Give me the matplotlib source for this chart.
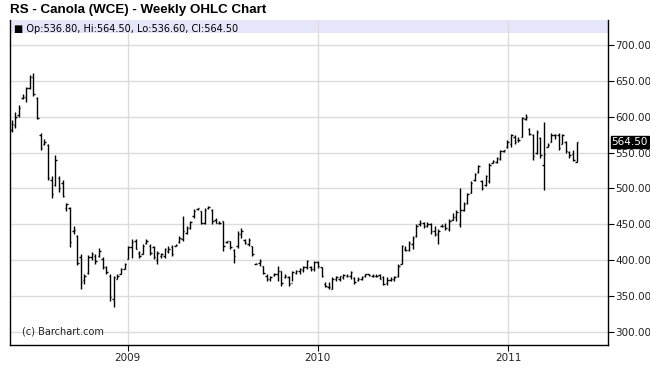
import numpy as np
import pandas as pd
import matplotlib.pyplot as plt
import matplotlib.dates as mdates

# weekly bars
start = "2008-05-23"
opens = [582, 588, 602, 626, 628, 640, 655, 626, 575, 562, 560, 512, 505, 515, 508, 472,
         472, 440, 434, 404, 372, 382, 404, 406, 406, 402, 390, 378, 345, 374, 381, 388,
         402, 418, 426, 410, 408, 424, 420, 418, 400, 406, 405, 412, 418, 420, 425, 430,
         438, 445, 461, 471, 468, 452, 472, 470, 456, 452, 454, 425, 426, 414, 420, 436,
         428, 422, 420, 395, 396, 391, 378, 374, 379, 380, 384, 376, 376, 368, 382, 384,
         386, 390, 390, 387, 397, 390, 366, 362, 360, 373, 374, 376, 378, 378, 375, 372,
         374, 377, 380, 378, 378, 379, 376, 368, 372, 373, 377, 395, 416, 414, 422, 433,
         450, 452, 448, 450, 440, 436, 447, 448, 443, 456, 460, 450, 470, 479, 494, 511,
         523, 510, 504, 510, 536, 537, 541, 552, 557, 562, 572, 567, 572, 597, 583, 575,
         550, 570, 533, 558, 565, 574, 575, 562, 565, 551, 548, 536.8]
highs = [595, 606, 616, 631, 642, 658, 661, 628, 577, 569, 562, 517, 546, 517, 511, 480,
         474, 447, 435, 408, 380, 407, 411, 408, 417, 404, 392, 380, 378, 380, 389, 396,
         420, 429, 429, 413, 422, 429, 422, 420, 413, 410, 417, 419, 421, 422, 433, 462,
         448, 455, 471, 473, 469, 472, 476, 471, 458, 455, 455, 427, 427, 415, 441, 445,
         429, 431, 420, 396, 401, 392, 380, 378, 382, 391, 385, 380, 378, 385, 386, 389,
         392, 400, 392, 399, 399, 390, 369, 369, 376, 378, 378, 380, 380, 385, 376, 376,
         378, 381, 381, 380, 380, 380, 377, 376, 376, 377, 394, 421, 420, 427, 433, 450,
         456, 453, 453, 451, 448, 443, 450, 451, 457, 465, 470, 501, 481, 494, 510, 522,
         533, 512, 519, 535, 539, 544, 554, 554, 567, 576, 574, 571, 600, 604, 584, 576,
         581, 571, 592, 563, 577, 576, 577, 576, 566, 552, 554, 564.5]
lows = [578, 584, 600, 625, 620, 638, 629, 597, 553, 561, 511, 487, 503, 495, 488, 469,
        418, 436, 393, 359, 366, 380, 400, 394, 404, 387, 381, 343, 335, 373, 380, 387,
        401, 403, 415, 403, 408, 422, 407, 402, 395, 403, 403, 410, 406, 419, 424, 427,
        436, 443, 459, 470, 450, 450, 471, 450, 451, 450, 413, 424, 415, 396, 417, 431,
        422, 420, 406, 394, 392, 380, 371, 371, 378, 371, 364, 375, 364, 371, 380, 381,
        383, 387, 385, 385, 389, 376, 362, 359, 359, 371, 371, 373, 376, 373, 366, 371,
        372, 376, 377, 376, 376, 373, 365, 365, 371, 371, 376, 394, 413, 413, 415, 432,
        448, 445, 446, 436, 433, 423, 446, 442, 441, 456, 455, 446, 469, 478, 494, 510,
        522, 497, 503, 508, 535, 535, 540, 551, 556, 557, 562, 564, 571, 595, 574, 540,
        548, 543, 497, 557, 564, 569, 553, 562, 550, 543, 538, 536.6]
closes = [590, 600, 612, 628, 640, 655, 632, 598, 556, 565, 515, 492, 540, 500, 490, 478,
          425, 442, 396, 370, 378, 404, 408, 398, 412, 390, 383, 348, 376, 378, 387, 394,
          418, 425, 416, 406, 420, 426, 410, 404, 410, 408, 415, 416, 408, 421, 431, 440,
          444, 453, 469, 472, 452, 470, 474, 455, 452, 451, 420, 426, 418, 405, 436, 440,
          424, 428, 408, 395, 398, 382, 374, 376, 381, 385, 368, 378, 366, 383, 385, 388,
          390, 398, 387, 397, 392, 378, 364, 362, 374, 376, 377, 379, 377, 383, 370, 374,
          376, 380, 379, 378, 378, 374, 367, 372, 374, 376, 392, 420, 414, 424, 431, 448,
          452, 447, 450, 440, 436, 441, 448, 444, 455, 460, 467, 470, 478, 492, 508, 520,
          531, 500, 517, 533, 538, 542, 552, 553, 565, 574, 565, 568, 598, 599, 576, 545,
          578, 546, 548, 561, 575, 575, 556, 574, 552, 546, 540, 564.5]
year_ticks = ["2009-01-01", "2010-01-01", "2011-01-01"]
year_labels = ["2009", "2010", "2011"]
price_ticks = [300, 350, 400, 450, 500, 550, 600, 650, 700]

dates = pd.date_range(start, periods=len(opens), freq="7D")
xd = mdates.date2num(dates)
tick = 2.8  # days

fig = plt.figure(figsize=(6.5, 3.86), dpi=100)
ax = fig.add_axes([10 / 650, 41 / 386, 598 / 650, 325 / 386])

ax.vlines(xd, lows, highs, color="black", lw=1.0)
ax.hlines(opens, xd - tick, xd, color="black", lw=1.0)
ax.hlines(closes, xd, xd + tick, color="black", lw=1.0)

ax.set_xlim(mdates.date2num(pd.Timestamp("2008-05-20")), mdates.date2num(pd.Timestamp("2011-07-12")))
ax.set_ylim(281.4, 734.9)

ax.set_xticks(mdates.date2num(pd.to_datetime(year_ticks)))
ax.set_xticklabels(year_labels, fontsize=7.5, color="#222222")
ax.set_yticks(price_ticks)
ax.set_yticklabels(["%.2f" % v for v in price_ticks], fontsize=7.5, color="#222222")
ax.yaxis.tick_right()
ax.tick_params(axis="y", direction="out", length=4, width=0.8, pad=1)
ax.tick_params(axis="x", direction="out", length=4, width=0.8, pad=2)
ax.grid(True, color="#dcdcdc", lw=1.0)
ax.set_axisbelow(True)
for s in ["left", "bottom", "right"]:
    ax.spines[s].set_color("black")
    ax.spines[s].set_linewidth(1.0)
ax.spines["top"].set_visible(False)

# header band
ax.axhspan(716.7, 734.9, color="#e6e6fa", zorder=0.5, lw=0)
ax.text(0.007, 0.972, "■ Op:536.80, Hi:564.50, Lo:536.60, Cl:564.50", transform=ax.transAxes,
        fontsize=7, va="center", ha="left", color="black")

ax.text(0.02, 0.04, "(c) Barchart.com", transform=ax.transAxes, fontsize=7, color="#222222",
        va="center", ha="left")

# last value label
ax.text(1.006, closes[-1], "%.2f" % closes[-1], transform=ax.get_yaxis_transform(),
        fontsize=7.5, color="white", va="center", ha="left",
        bbox=dict(boxstyle="square,pad=0.1", fc="black", ec="black"))

fig.text(10 / 650, 1 - 10 / 386, "RS - Canola (WCE) - Weekly OHLC Chart", fontsize=9.6,
         fontweight="bold", family="Liberation Sans", va="center", ha="left")

fig.savefig("out.png", dpi=100)
